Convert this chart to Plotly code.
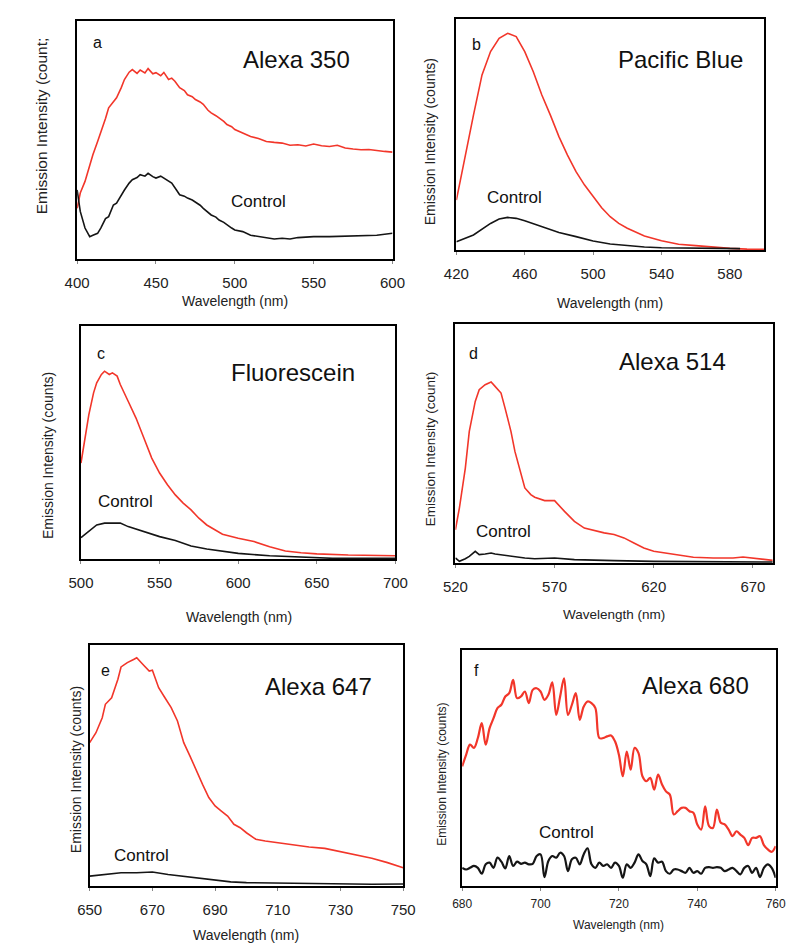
import plotly.graph_objects as go

W, H = 800, 943

# ---------------- data (arbitrary intensity units, 0-100 of panel height) ----------------
a_wl_red = [400, 402, 405, 408, 410, 413, 415, 418, 420, 423, 425, 428, 430, 433, 435, 438, 440, 443, 445,
            448, 450, 453, 455, 458, 460, 462, 465, 468, 470, 473, 475, 478, 480, 483, 485, 488, 490, 493,
            495, 498, 500, 505, 510, 515, 520, 525, 530, 535, 540, 545, 550, 555, 560, 565, 570, 575, 580,
            585, 590, 595, 600]
a_red = [21.3, 27.7, 32.6, 39.6, 43.8, 49.4, 53.0, 59.0, 63.5, 66.0, 67.7, 72.0, 75.4, 78.5, 79.6, 78.0, 79.4,
         78.2, 80.0, 77.8, 78.3, 77.0, 78.4, 75.4, 76.0, 74.7, 72.0, 70.8, 69.0, 68.2, 67.0, 66.0, 65.0, 62.5,
         61.4, 60.2, 59.3, 57.8, 56.5, 55.6, 54.4, 53.0, 51.5, 50.6, 49.4, 49.0, 48.7, 47.8, 48.0, 47.5, 48.3,
         47.6, 47.3, 47.8, 46.6, 46.2, 45.9, 46.0, 45.5, 45.2, 44.9]
a_wl_blk = [400, 402, 405, 408, 410, 413, 415, 418, 420, 423, 425, 428, 430, 433, 435, 438, 440, 443, 445,
            448, 450, 453, 455, 458, 460, 463, 465, 468, 470, 473, 475, 478, 480, 483, 485, 488, 490, 493,
            495, 498, 500, 505, 510, 515, 520, 525, 530, 535, 540, 545, 550, 560, 570, 580, 590, 600]
a_blk = [29.0, 20.0, 13.0, 9.4, 10.0, 10.8, 13.0, 17.0, 17.8, 22.7, 23.5, 27.0, 29.0, 31.9, 33.3, 34.2, 35.4,
         34.8, 36.0, 34.6, 34.0, 34.8, 34.0, 32.6, 31.9, 29.0, 27.0, 26.4, 25.6, 24.8, 24.0, 22.6, 21.3, 19.6,
         18.5, 17.6, 16.4, 15.4, 14.3, 13.0, 12.2, 11.5, 10.0, 9.4, 9.0, 8.4, 8.7, 8.4, 9.0, 9.2, 9.4, 9.4,
         9.7, 9.8, 10.0, 10.8]

b_wl_red = [420, 423, 425, 428, 430, 435, 440, 445, 450, 455, 460, 465, 470, 475, 480, 485, 490, 495, 500,
            505, 510, 515, 520, 530, 540, 550, 560, 570, 580, 590, 600]
b_red = [21.6, 33.0, 41.1, 52.0, 58.4, 75.8, 85.9, 91.6, 93.8, 92.4, 85.9, 77.2, 67.1, 58.4, 49.1, 41.1, 33.9,
         28.1, 23.1, 18.3, 14.4, 11.5, 9.4, 6.1, 4.0, 2.5, 1.9, 1.2, 0.7, 0.4, 0.3]
b_wl_blk = [420, 430, 440, 445, 450, 455, 460, 470, 480, 490, 500, 510, 520, 530, 540, 560, 586]
b_blk = [3.6, 6.5, 11.5, 13.4, 14.1, 13.7, 12.7, 10.1, 7.6, 5.8, 3.9, 2.6, 1.9, 1.3, 1.0, 0.7, 0.6]

c_wl_red = [500, 503, 505, 508, 510, 513, 515, 518, 520, 523, 525, 530, 535, 540, 545, 550, 555, 560, 565,
            570, 575, 580, 585, 590, 600, 610, 620, 630, 640, 650, 670, 700]
c_red = [41.2, 53.4, 62.0, 71.3, 75.6, 79.2, 80.6, 79.2, 79.9, 78.5, 74.9, 67.7, 60.5, 51.9, 43.3, 36.9, 31.9,
         27.5, 24.0, 21.1, 17.5, 14.6, 12.5, 10.6, 8.9, 7.5, 5.3, 3.4, 2.7, 2.2, 1.7, 1.4]
c_wl_blk = [500, 505, 510, 515, 520, 525, 530, 540, 550, 560, 570, 580, 590, 600, 620, 640, 660, 700]
c_blk = [9.2, 12.1, 14.6, 15.4, 15.4, 15.4, 13.9, 11.8, 9.6, 7.9, 5.6, 4.3, 3.2, 2.4, 1.4, 0.7, 0.3, 0.3]

d_wl_red = [520, 522, 525, 527, 530, 532, 535, 538, 540, 543, 545, 548, 550, 553, 555, 558, 560, 565, 570,
            575, 580, 585, 590, 595, 600, 605, 610, 615, 620, 630, 640, 650, 660, 665, 670, 680]
d_red = [13.9, 23.0, 39.7, 55.1, 67.6, 72.5, 74.6, 75.7, 73.9, 71.1, 64.9, 55.1, 46.7, 37.0, 31.4, 28.6, 27.5,
         26.1, 26.1, 21.6, 17.4, 14.6, 13.5, 12.6, 11.9, 10.5, 8.4, 6.3, 4.9, 3.5, 2.4, 2.1, 2.1, 2.5, 2.1, 1.1]
d_wl_blk = [520, 522, 525, 527, 530, 532, 535, 538, 540, 545, 550, 555, 560, 565, 570, 580, 590, 600, 620,
            640, 660, 680]
d_blk = [2.1, 0.7, 1.8, 2.8, 4.9, 3.5, 3.8, 4.2, 3.8, 3.2, 2.4, 2.1, 1.8, 1.8, 2.1, 1.4, 1.1, 1.0, 0.7,
         0.6, 0.7, 0.4]

e_wl_red = [650, 652, 654, 655, 657, 659, 660, 662, 664, 665, 667, 669, 670, 672, 674, 676, 678, 680, 682,
            684, 686, 688, 690, 692, 694, 696, 698, 700, 703, 706, 710, 715, 720, 725, 730, 735, 740, 745, 750]
e_red = [59.5, 63.6, 69.8, 75.4, 78.1, 85.8, 90.9, 92.7, 94.0, 94.7, 91.9, 89.2, 89.5, 82.3, 78.1, 74.0, 68.5,
         59.5, 53.9, 47.7, 42.2, 36.7, 33.2, 31.1, 29.0, 25.6, 24.2, 22.1, 19.4, 18.7, 18.0, 17.0, 16.2, 15.6,
         14.2, 12.9, 11.5, 9.7, 7.6]
e_wl_blk = [650, 655, 660, 665, 670, 675, 680, 685, 690, 695, 700, 710, 720, 730, 740, 750]
e_blk = [4.1, 4.8, 5.5, 5.5, 5.8, 4.8, 4.1, 3.2, 2.4, 1.7, 1.4, 1.2, 1.0, 0.8, 0.7, 0.8]

f_wl = list(range(680, 761))
f_red = [50.7, 55.6, 59.9, 58.5, 62.7, 69.0, 59.9, 66.9, 71.1, 75.4, 76.8, 80.3, 81.7, 87.3, 79.6, 80.3, 82.4,
         77.5, 83.1, 83.8, 82.4, 78.9, 81.0, 86.3, 72.5, 80.3, 88.0, 72.5, 76.8, 81.7, 70.4, 76.0, 78.2, 77.5,
         75.4, 62.7, 62.7, 63.4, 63.8, 61.3, 55.6, 46.5, 57.0, 49.3, 58.5, 56.3, 46.5, 44.4, 45.8, 40.8, 47.2,
         43.0, 40.1, 38.7, 30.3, 31.7, 33.1, 33.1, 31.7, 31.0, 26.1, 23.9, 33.8, 25.4, 24.6, 32.4, 26.8, 26.1,
         23.9, 21.1, 23.2, 21.8, 20.4, 17.3, 20.4, 20.4, 21.1, 17.3, 15.5, 14.5, 16.9]
f_blk = [7.7, 7.0, 7.7, 8.5, 7.7, 5.2, 9.2, 9.9, 7.7, 12.0, 10.3, 7.5, 12.7, 8.5, 10.3, 9.4, 9.9, 9.2, 9.4,
         12.7, 13.4, 3.8, 10.6, 12.7, 12.0, 14.1, 12.7, 6.3, 11.3, 12.0, 9.2, 13.4, 16.0, 9.2, 7.7, 9.9, 8.5,
         9.2, 7.7, 9.9, 8.5, 3.5, 9.2, 7.7, 9.9, 13.4, 10.6, 9.2, 4.2, 11.7, 9.9, 10.3, 6.3, 5.2, 7.0, 7.0,
         6.3, 5.6, 7.7, 5.6, 6.3, 5.2, 7.7, 8.0, 7.7, 8.0, 7.7, 6.3, 7.0, 7.7, 6.3, 4.9, 7.7, 8.5, 5.6, 7.7,
         3.8, 7.7, 9.2, 7.7, 3.5]

panel_letters = ["a", "b", "c", "d", "e", "f"]
dye_names = ["Alexa 350", "Pacific Blue", "Fluorescein", "Alexa 514", "Alexa 647", "Alexa 680"]
y_titles = ["Emission Intensity (count;", "Emission Intensity (counts)", "Emission Intensity (counts)",
            "Emission Intensity (count)", "Emission Intensity (counts)", "Emission Intensity (counts)"]
x_title = "Wavelength (nm)"
x_ranges = [[400, 600], [420, 600], [500, 700], [520, 680], [650, 750], [680, 760]]
x_ticks = [[400, 450, 500, 550, 600], [420, 460, 500, 540, 580], [500, 550, 600, 650, 700],
           [520, 570, 620, 670], [650, 670, 690, 710, 730, 750], [680, 700, 720, 740, 760]]

red_series = [(a_wl_red, a_red), (b_wl_red, b_red), (c_wl_red, c_red), (d_wl_red, d_red),
              (e_wl_red, e_red), (f_wl, f_red)]
blk_series = [(a_wl_blk, a_blk), (b_wl_blk, b_blk), (c_wl_blk, c_blk), (d_wl_blk, d_blk),
              (e_wl_blk, e_blk), (f_wl, f_blk)]

# ---------------- layout (pixel boxes) ----------------
boxes = [(58, 13, 384, 251), (450, 11, 768, 242), (62, 318, 387, 551),
         (449, 316, 777, 555), (71, 637, 395, 878), (456, 642, 780, 878)]
ytitle_pos = [(21, 118, 15.5), (423, 134, 14), (28, 448, 14), (423, 441, 13.5), (57, 762, 14), (435, 766, 12)]
xtitle_pos = [(221, 293, 14), (609, 295, 14), (225, 609, 14), (613, 606, 13.5), (233, 927, 14), (618, 917, 12)]
letter_pos = [(79, 35), (471, 37), (83, 345), (468, 345), (87, 662), (471, 662)]
dye_pos = [(285, 52), (682, 52), (281, 365), (673, 353), (308, 678), (697, 677)]
control_pos = [(245, 193), (510, 189), (108, 493), (499, 523), (125, 847), (564, 824)]
tick_font = [15, 15, 15, 15, 15, 12]

RED = "#f2362a"
BLK = "#151515"
FONT = "Liberation Sans, Arial, sans-serif"


def px(x):
    return x / W


def py(y):
    return 1 - y / H


def note(text, x, y, size, angle=0, color="#111"):
    return dict(text=text, x=px(x), y=py(y), xref="paper", yref="paper", xanchor="center",
                yanchor="middle", textangle=angle, showarrow=False,
                font=dict(size=size, color=color, family=FONT))


fig = go.Figure()
annotations = []
for i in range(6):
    n = "" if i == 0 else str(i + 1)
    xa, ya = "x" + n, "y" + n
    lw = 2.2 if i == 5 else 1.6
    shape = "spline" if i == 5 else "linear"
    rx, ry = red_series[i]
    bx, by = blk_series[i]
    fig.add_trace(go.Scatter(x=rx, y=ry, mode="lines", xaxis=xa, yaxis=ya, showlegend=False,
                             line=dict(color=RED, width=lw, shape=shape)))
    fig.add_trace(go.Scatter(x=bx, y=by, mode="lines", xaxis=xa, yaxis=ya, showlegend=False,
                             line=dict(color=BLK, width=lw, shape=shape)))
    x0, y0, x1, y1 = boxes[i]
    axis_common = dict(showline=True, mirror=True, linecolor="black", linewidth=1.5,
                       showgrid=False, zeroline=False)
    fig.layout["xaxis" + n] = dict(domain=[px(x0), px(x1)], anchor=ya, range=x_ranges[i],
                                   tickvals=x_ticks[i], ticks="outside", ticklen=3, tickcolor="#888",
                                   tickfont=dict(size=tick_font[i], color="#222", family=FONT),
                                   ticklabelstandoff=6 if i < 5 else 3, **axis_common)
    fig.layout["yaxis" + n] = dict(domain=[py(y1), py(y0)], anchor=xa, range=[0, 100],
                                   showticklabels=False, ticks="", **axis_common)
    tx, ty, ts = ytitle_pos[i]
    annotations.append(note(y_titles[i], tx, ty, ts, angle=-90, color="#222"))
    tx, ty, ts = xtitle_pos[i]
    annotations.append(note(x_title, tx, ty, ts, color="#222"))
    lx, ly = letter_pos[i]
    annotations.append(note(panel_letters[i], lx, ly, 16))
    dx, dy = dye_pos[i]
    annotations.append(note(dye_names[i], dx, dy, 24))
    cx, cy = control_pos[i]
    annotations.append(note("Control", cx, cy, 17))

fig.update_layout(width=W, height=H, margin=dict(l=0, r=0, t=0, b=0),
                  paper_bgcolor="white", plot_bgcolor="white", annotations=annotations,
                  font=dict(family=FONT))
fig.write_html("out.html")
